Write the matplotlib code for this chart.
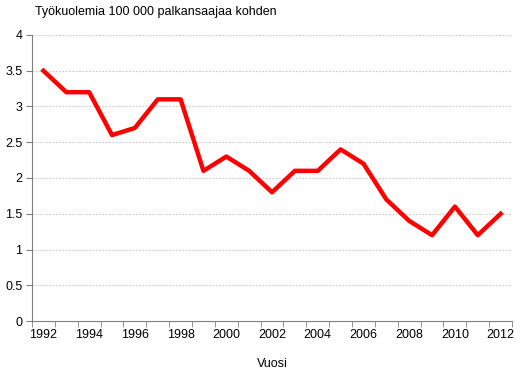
import numpy as np
import matplotlib.pyplot as plt

years = list(range(1992, 2013))
deaths = [3.5, 3.2, 3.2, 2.6, 2.7, 3.1, 3.1, 2.1, 2.3, 2.1, 1.8,
          2.1, 2.1, 2.4, 2.2, 1.7, 1.4, 1.2, 1.6, 1.2, 1.5]
y_ticks = [0, 0.5, 1, 1.5, 2, 2.5, 3, 3.5, 4]
y_labels = ["0", "0.5", "1", "1.5", "2", "2.5", "3", "3.5", "4"]

plt.rcParams['font.family'] = ['Liberation Sans', 'DejaVu Sans']

fig = plt.figure(figsize=(5.29, 3.79), dpi=100)
ax = fig.add_axes([0.0605, 0.153, 0.9075, 0.7547])

x = np.arange(len(years))
ax.plot(x, deaths, color='#ff0000', linewidth=3.2, solid_joinstyle='round', zorder=3)

ax.set_xlim(-0.5, len(years) - 0.5)
ax.set_ylim(0, 4)
ax.set_yticks(y_ticks)
ax.set_yticklabels(y_labels, fontsize=9)
for yv in y_ticks[1:]:
    ax.axhline(yv, color='#c8c8c8', linewidth=0.8, linestyle=(0, (1.5, 1.5)), zorder=1)

ax.set_xticks(x[::2])
ax.set_xticklabels([str(y) for y in years[::2]], fontsize=9)
ax.set_xticks(np.arange(-0.5, len(years), 1), minor=True)
ax.tick_params(axis='x', which='major', length=0, pad=6)
ax.tick_params(axis='x', which='minor', length=4, color='#808080', direction='out')
ax.tick_params(axis='y', length=4, color='#808080', direction='out', pad=3)

for s in ['top', 'right']:
    ax.spines[s].set_visible(False)
for s in ['left', 'bottom']:
    ax.spines[s].set_color('#808080')

ax.set_xlabel("Vuosi", fontsize=9, labelpad=12)
fig.text(35 / 529, 1 - 12 / 379, "Työkuolemia 100 000 palkansaajaa kohden",
         fontsize=9, va='center', ha='left')

fig.savefig("out.png", dpi=100)
